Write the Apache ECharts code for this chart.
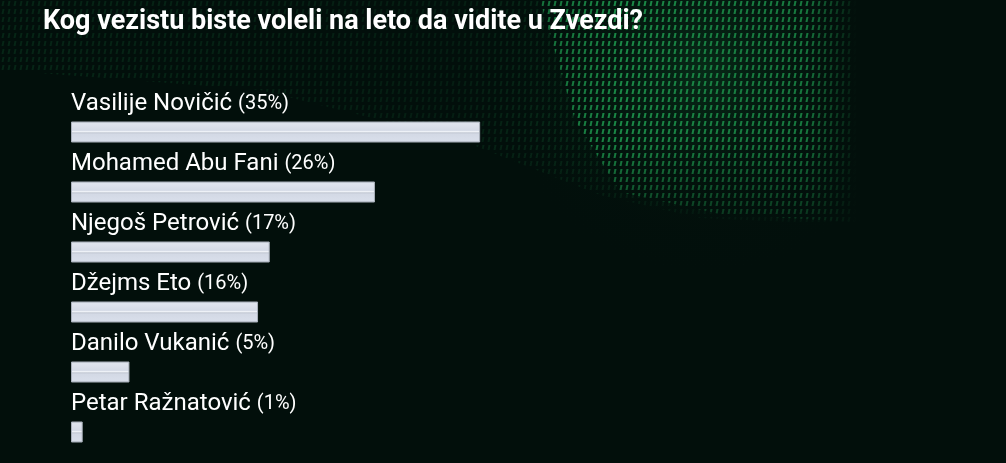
<!DOCTYPE html>
<html>
<head>
<meta charset="utf-8">
<script src="https://cdn.jsdelivr.net/npm/echarts@6/dist/echarts.min.js"></script>
<style>
  html, body { margin: 0; padding: 0; background: #020f0b; }
  #chart { width: 1006px; height: 463px; }
</style>
</head>
<body>
<div id="chart"></div>
<script>
// podaci ankete
var names = ['Vasilije Novičić', 'Mohamed Abu Fani', 'Njegoš Petrović', 'Džejms Eto', 'Danilo Vukanić', 'Petar Ražnatović'];
var percents = [35, 26, 17, 16, 5, 1];
var title = 'Kog vezistu biste voleli na leto da vidite u Zvezdi?';

// sitan uzorak za zelenu "mrezu" u pozadini
function makePattern() {
    var c = document.createElement('canvas');
    c.width = 6;
    c.height = 8;
    var ctx = c.getContext('2d');
    ctx.fillStyle = '#22a556';
    ctx.beginPath();
    ctx.moveTo(2.5, 1);
    ctx.lineTo(4.5, 1);
    ctx.lineTo(3.5, 6);
    ctx.lineTo(1.5, 6);
    ctx.closePath();
    ctx.fill();
    return c;
}
var pattern = { image: makePattern(), repeat: 'repeat' };

var barColor = {
    type: 'linear', x: 0, y: 0, x2: 0, y2: 1,
    colorStops: [
        { offset: 0, color: '#c4cad4' },
        { offset: 0.1, color: '#dfe4ee' },
        { offset: 0.42, color: '#d4dae6' },
        { offset: 0.48, color: '#f0f3f8' },
        { offset: 0.54, color: '#c3c9d4' },
        { offset: 0.6, color: '#d3d9e5' },
        { offset: 0.9, color: '#d8deea' },
        { offset: 1, color: '#b9bfca' }
    ]
};

var option = {
    backgroundColor: '#020f0b',
    animation: false,
    title: {
        text: title,
        left: 38,
        top: 4,
        textStyle: { color: '#ffffff', fontFamily: 'Roboto', fontWeight: 'bold', fontSize: 27 }
    },
    graphic: [
        {
            type: 'polygon', z: -10, silent: true,
            shape: { points: [[0, 0], [860, 0], [860, 225], [700, 218], [600, 195], [460, 140], [260, 90], [0, 70]] },
            style: { fill: pattern, opacity: 0.22 }
        },
        {
            type: 'polygon', z: -9, silent: true,
            shape: { points: [[540, 0], [852, 0], [854, 222], [720, 214], [620, 192], [575, 120]] },
            style: { fill: pattern, opacity: 0.9 }
        },
        {
            type: 'rect', z: -8, silent: true,
            shape: { x: 0, y: 0, width: 1006, height: 463 },
            style: {
                fill: {
                    type: 'radial', x: 0.7, y: 0.15, r: 0.45,
                    colorStops: [
                        { offset: 0, color: 'rgba(20,110,55,0.3)' },
                        { offset: 0.6, color: 'rgba(8,50,25,0.12)' },
                        { offset: 1, color: 'rgba(2,15,11,0)' }
                    ]
                }
            }
        },
        {
            type: 'rect', z: -7, silent: true,
            shape: { x: 0, y: 0, width: 1006, height: 463 },
            style: {
                fill: {
                    type: 'linear', x: 0, y: 0, x2: 1, y2: 0,
                    colorStops: [
                        { offset: 0, color: 'rgba(2,15,11,0.3)' },
                        { offset: 0.45, color: 'rgba(2,15,11,0.55)' },
                        { offset: 0.62, color: 'rgba(2,15,11,0)' },
                        { offset: 0.8, color: 'rgba(2,15,11,0.15)' },
                        { offset: 0.855, color: 'rgba(2,15,11,1)' },
                        { offset: 1, color: 'rgba(2,15,11,1)' }
                    ]
                }
            }
        },
        {
            type: 'rect', z: -6, silent: true,
            shape: { x: 0, y: 0, width: 1006, height: 463 },
            style: {
                fill: {
                    type: 'linear', x: 0, y: 0, x2: 0, y2: 1,
                    colorStops: [
                        { offset: 0, color: 'rgba(2,15,11,0)' },
                        { offset: 0.3, color: 'rgba(2,15,11,0)' },
                        { offset: 0.48, color: 'rgba(2,15,11,0.7)' },
                        { offset: 1, color: 'rgba(2,15,11,1)' }
                    ]
                }
            }
        }
    ],
    grid: { left: 71, top: 102, width: 584.5, height: 360 },
    xAxis: {
        type: 'value', min: 0, max: 50, show: false
    },
    yAxis: {
        type: 'category', data: names, inverse: true, show: false
    },
    series: [{
        type: 'bar',
        data: percents,
        barWidth: 21,
        itemStyle: { color: barColor, borderColor: '#aab1bc', borderWidth: 1 },
        label: {
            show: true,
            position: [0, -18],
            align: 'left',
            verticalAlign: 'middle',
            formatter: function (p) {
                return '{n|' + names[p.dataIndex] + '}{s| }{p|(' + percents[p.dataIndex] + '%)}';
            },
            rich: {
                n: { color: '#ffffff', fontFamily: 'Roboto', fontSize: 24 },
                s: { color: '#ffffff', fontFamily: 'Roboto', fontSize: 24 },
                p: { color: '#ffffff', fontFamily: 'Roboto', fontSize: 20 }
            }
        }
    }]
};

var chart = echarts.init(document.getElementById('chart'));
chart.setOption(option);
</script>
</body>
</html>
